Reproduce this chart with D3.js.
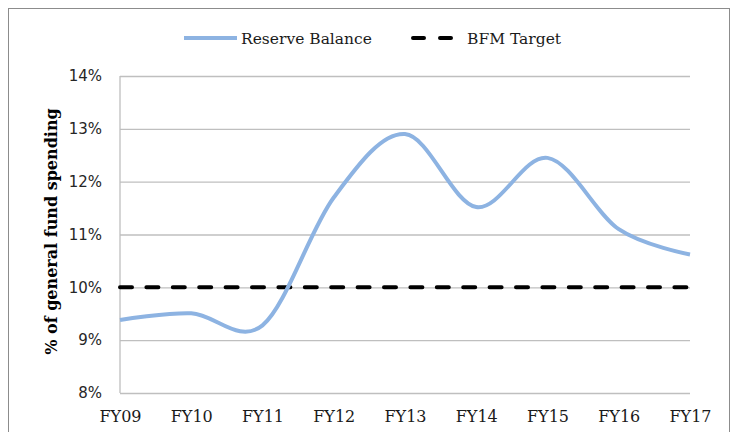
<!DOCTYPE html>
<html>
<head>
<meta charset="utf-8">
<title>Reserve Balance</title>
<script src="https://cdn.jsdelivr.net/npm/d3@7"></script>
<style>
  body { margin: 0; background: #fff; }
  svg { display: block; }
</style>
</head>
<body>
<script>
  // data
  const years = ["FY09", "FY10", "FY11", "FY12", "FY13", "FY14", "FY15", "FY16", "FY17"];
  const reserve = [9.38, 9.51, 9.28, 11.7, 12.9, 11.52, 12.45, 11.1, 10.62];
  const target = [10, 10, 10, 10, 10, 10, 10, 10, 10];
  const yTicks = [8, 9, 10, 11, 12, 13, 14];

  const w = 736, h = 432;
  const plot = { left: 120, right: 690, top: 76, bottom: 393 };

  const svg = d3.select("body").append("svg")
    .attr("width", w)
    .attr("height", h);

  // outer chart frame (bottom edge is cut off in the picture)
  svg.append("rect")
    .attr("x", 8.5).attr("y", 8.5)
    .attr("width", 721).attr("height", 440)
    .attr("fill", "#fff")
    .attr("stroke", "#8c8c8c")
    .attr("stroke-width", 1);

  const x = d3.scalePoint()
    .domain(years)
    .range([plot.left, plot.right]);

  const y = d3.scaleLinear()
    .domain([8, 14])
    .range([plot.bottom, plot.top]);

  // gridlines + y tick labels
  const yAxis = d3.axisLeft(y)
    .tickValues(yTicks)
    .tickSize(-(plot.right - plot.left))
    .tickPadding(18)
    .tickFormat(d => d + "%");

  const gy = svg.append("g")
    .attr("transform", `translate(${plot.left},0)`)
    .call(yAxis);
  gy.select(".domain").remove();
  gy.selectAll(".tick line")
    .attr("stroke", "#bfbfbf")
    .attr("stroke-width", 1.3);
  gy.selectAll(".tick text")
    .attr("fill", "#262626")
    .style("font-family", "'DejaVu Sans', sans-serif")
    .style("font-size", "15px");

  // left axis line
  svg.append("line")
    .attr("x1", plot.left).attr("x2", plot.left)
    .attr("y1", plot.top).attr("y2", plot.bottom)
    .attr("stroke", "#bfbfbf")
    .attr("stroke-width", 1.3);

  // x labels
  const xAxis = d3.axisBottom(x).tickSize(0).tickPadding(18);
  const gx = svg.append("g")
    .attr("transform", `translate(0,${plot.bottom})`)
    .call(xAxis);
  gx.select(".domain").remove();
  gx.selectAll(".tick text")
    .attr("fill", "#1a1a1a")
    .style("font-family", "'DejaVu Serif', serif")
    .style("font-size", "16px");

  // y title
  svg.append("text")
    .attr("transform", `translate(57,${(plot.top + plot.bottom) / 2 - 3}) rotate(-90)`)
    .attr("text-anchor", "middle")
    .attr("fill", "#000")
    .style("font-family", "'DejaVu Serif', serif")
    .style("font-weight", "bold")
    .style("font-size", "16px")
    .text("% of general fund spending");

  const line = d3.line()
    .x((d, i) => x(years[i]))
    .y(d => y(d));

  // BFM target dashed line
  svg.append("path")
    .datum(target)
    .attr("d", line)
    .attr("fill", "none")
    .attr("stroke", "#000")
    .attr("stroke-width", 4)
    .attr("stroke-linecap", "round")
    .attr("stroke-dasharray", "12,14.4");

  // reserve balance, smoothed like the spreadsheet line
  svg.append("path")
    .datum(reserve)
    .attr("d", line.curve(d3.curveCardinal.tension(0)))
    .attr("fill", "none")
    .attr("stroke", "#8db3e2")
    .attr("stroke-width", 4);

  // legend
  const legend = svg.append("g").attr("class", "legend");
  legend.append("line")
    .attr("x1", 184).attr("x2", 237)
    .attr("y1", 38).attr("y2", 38)
    .attr("stroke", "#8db3e2")
    .attr("stroke-width", 4);
  legend.append("text")
    .attr("x", 241).attr("y", 44)
    .style("font-family", "'DejaVu Serif', serif")
    .style("font-size", "15.5px")
    .attr("fill", "#1a1a1a")
    .text("Reserve Balance");
  legend.append("line")
    .attr("x1", 413).attr("x2", 451)
    .attr("y1", 38).attr("y2", 38)
    .attr("stroke", "#000")
    .attr("stroke-width", 4)
    .attr("stroke-linecap", "round")
    .attr("stroke-dasharray", "11,16");
  legend.append("text")
    .attr("x", 467).attr("y", 44)
    .style("font-family", "'DejaVu Serif', serif")
    .style("font-size", "15.5px")
    .attr("fill", "#1a1a1a")
    .text("BFM Target");
</script>
</body>
</html>
